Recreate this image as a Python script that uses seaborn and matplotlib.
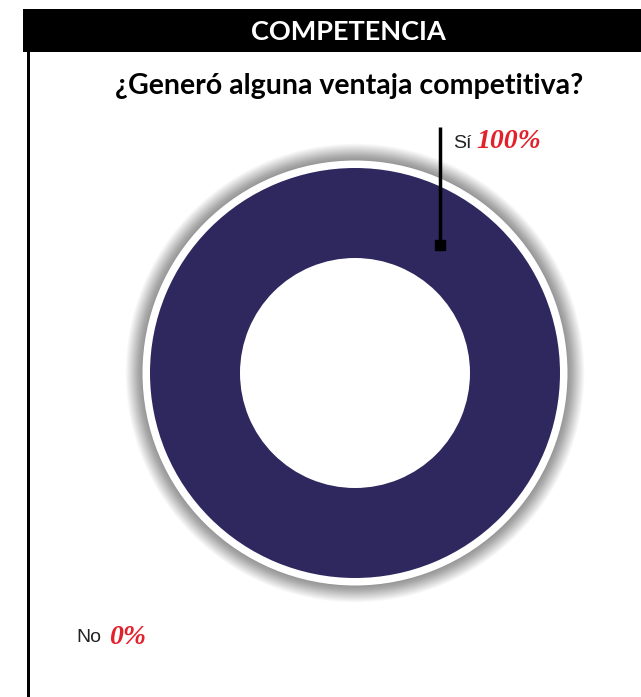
import matplotlib
matplotlib.use("Agg")
import matplotlib.pyplot as plt
import seaborn as sns
from matplotlib.patches import Rectangle, Circle

sns.set_theme(style="white")
plt.rcParams['font.family'] = ['Lato', 'DejaVu Sans']

# Data
categories = ["Sí", "No"]
values = [100, 0]
pct_labels = ["100%", "0%"]
header = "COMPETENCIA"
question = "¿Generó alguna ventaja competitiva?"

navy = "#2e285f"
red = "#e3212b"

W, H = 641, 697
fig = plt.figure(figsize=(W / 100, H / 100), dpi=100)
ax = fig.add_axes([0, 0, 1, 1])

cx, cy = 355, H - 373
R, r = 205, 115

# soft shadow halo
n = 40
for i in range(n):
    ax.add_patch(Circle((cx, cy), R + 7 + i * 0.45, color="black",
                        alpha=0.011, lw=0, zorder=1))
ax.add_patch(Circle((cx, cy), R + 7.5, color="white", lw=0, zorder=2))

wedges, _ = ax.pie(values, colors=[navy, navy], radius=R, center=(cx, cy),
                   startangle=90, counterclock=False,
                   wedgeprops=dict(width=R - r, lw=0))
for w in wedges:
    w.set_zorder(3)

# header bar and frame
ax.add_patch(Rectangle((23, H - 52), W - 23, 43, color="black", lw=0, zorder=5))
ax.add_patch(Rectangle((27, 0), 3, H - 52, color="black", lw=0, zorder=5))
ax.text(348, H - 32, header, color="white", fontsize=19.5, fontweight="bold",
        ha="center", va="center", zorder=6)
ax.text(349, H - 86, question, color="black", fontsize=20.5, fontweight="bold",
        ha="center", va="center", zorder=6)

# leader for Sí
ax.plot([440, 440], [H - 127, H - 245], color="black", lw=2.5, zorder=6,
        solid_capstyle="butt")
ax.plot([440], [H - 245], marker="s", ms=7.5, color="black", zorder=7)

ax.text(453, H - 143, categories[0], fontsize=14, color="#222222",
        family=["Liberation Sans Narrow", "Liberation Sans", "DejaVu Sans"],
        ha="left", va="center", zorder=6)
ax.text(476, H - 142, pct_labels[0], fontsize=20, color=red, style="italic",
        fontweight="bold", family=["Liberation Serif", "DejaVu Serif"],
        ha="left", va="center", zorder=6)

ax.text(76, H - 638, categories[1], fontsize=14, color="#222222",
        family=["Liberation Sans Narrow", "Liberation Sans", "DejaVu Sans"],
        ha="left", va="center", zorder=6)
ax.text(109, H - 637, pct_labels[1], fontsize=20, color=red, style="italic",
        fontweight="bold", family=["Liberation Serif", "DejaVu Serif"],
        ha="left", va="center", zorder=6)

ax.set_xlim(0, W)
ax.set_ylim(0, H)
ax.set_aspect("auto")
ax.axis("off")

fig.savefig("out.png", dpi=100, facecolor="white")
